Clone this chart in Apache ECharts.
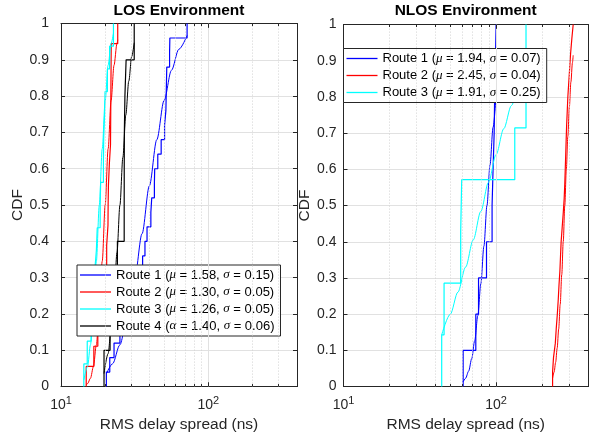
<!DOCTYPE html>
<html><head><meta charset="utf-8">
<script src="https://cdn.jsdelivr.net/npm/echarts/dist/echarts.min.js"></script>
<style>html,body{margin:0;padding:0;background:#fff}#c{width:592px;height:438px}</style>
</head><body><div id="c"></div>
<script>
// ---------- data ----------
const xMin = 10, xMax = 400;
const majorXValues = [10, 100];
const minorGridValues = [20, 30, 40, 50, 60, 70, 80, 90, 200, 300, 400];

// LOS environment: sorted RMS delay spread samples (ns) for each route
const losRoute1 = [20.32, 21.43, 22.91, 25.12, 28.84, 30.20, 31.62, 33.11, 35.81, 37.15, 38.37, 40.74, 41.30, 43.05, 43.25, 45.39, 47.86, 50.47, 51.52, 51.76, 52.00, 52.24, 54.58, 54.83, 71.78];
const losRoute2 = [14.83, 16.71, 17.78, 18.28, 18.71, 19.14, 20.42, 20.84, 20.89, 20.99, 21.28, 21.68, 21.73, 21.78, 21.83, 21.88, 21.93, 24.27];
const losRoute3 = [14.29, 15.07, 16.03, 16.52, 16.90, 17.38, 17.62, 18.45, 18.58, 19.41, 19.50, 19.77, 19.91, 20.65, 21.38, 22.70];
const losRoute4 = [19.59, 21.53, 22.91, 24.15, 26.85, 26.87, 26.92, 27.16, 27.67, 31.41];

// LOS fitted log-normal CDF curves (x in ns, y = CDF)
const losFit1X = [20.32, 22.4, 25.1, 28.2, 31.6, 35.5, 39.8, 44.7, 50.1, 56.2, 63.1, 71.78];
const losFit1Y = [0.035, 0.063, 0.115, 0.193, 0.297, 0.421, 0.553, 0.680, 0.788, 0.871, 0.929, 0.967];
const losFit2X = [14.83, 15.14, 15.85, 16.60, 17.38, 18.20, 19.05, 19.95, 20.89, 21.88, 22.91, 23.99, 24.27];
const losFit2Y = [0.005, 0.008, 0.023, 0.055, 0.115, 0.212, 0.345, 0.500, 0.655, 0.788, 0.885, 0.945, 0.955];
const losFit3X = [14.29, 15.14, 15.85, 16.60, 17.38, 18.20, 19.05, 19.95, 20.89, 21.88, 22.70];
const losFit3Y = [0.018, 0.055, 0.115, 0.212, 0.345, 0.500, 0.655, 0.788, 0.885, 0.945, 0.973];
const losFit4X = [19.59, 20.89, 21.88, 22.91, 23.99, 25.12, 26.30, 27.54, 28.84, 30.20, 31.41];
const losFit4Y = [0.036, 0.091, 0.159, 0.252, 0.369, 0.500, 0.631, 0.748, 0.841, 0.909, 0.947];

// NLOS environment
const nlosRoute1 = [60.8, 73.6, 76.7, 86.5, 94.1, 95.5, 97.1, 97.8, 98.9, 100.0];
const nlosRoute2 = [234.4, 237.7, 244.3, 247.7, 251.8, 255.3, 258.2, 261.8, 264.2, 266.7, 271.0, 275.4, 279.3, 281.8, 283.8, 285.8, 287.7, 289.7, 292.4, 295.1, 299.2, 303.4, 307.6, 313.3, 319.9];
const nlosRoute3 = [44.0, 45.6, 58.6, 59.5, 132.5, 157.0, 157.0];

const nlosFit1X = [60.8, 63.1, 66.1, 69.2, 72.4, 75.9, 79.4, 83.2, 87.1, 91.2, 95.5, 100.0];
const nlosFit1Y = [0.013, 0.023, 0.043, 0.077, 0.127, 0.196, 0.284, 0.388, 0.500, 0.612, 0.716, 0.804];
const nlosFit2X = [234.4, 239.9, 245.5, 251.2, 257.0, 263.0, 269.2, 275.4, 281.8, 288.4, 295.1, 302.0, 309.0, 316.2, 319.9];
const nlosFit2Y = [0.023, 0.040, 0.067, 0.106, 0.159, 0.227, 0.309, 0.401, 0.500, 0.599, 0.691, 0.773, 0.841, 0.894, 0.915];
const nlosFit3X = [44.0, 50.1, 56.2, 63.1, 70.8, 79.4, 89.1, 100.0, 112.2, 125.9, 141.3, 157.0];
const nlosFit3Y = [0.143, 0.200, 0.261, 0.330, 0.405, 0.484, 0.564, 0.641, 0.712, 0.776, 0.831, 0.874];

const losNames = [
  'Route 1 (μ = 1.58, σ = 0.15)',
  'Route 2 (μ = 1.30, σ = 0.05)',
  'Route 3 (μ = 1.26, σ = 0.05)',
  'Route 4 (α = 1.40, σ = 0.06)'
];
const nlosNames = [
  'Route 1 (μ = 1.94, σ = 0.07)',
  'Route 2 (μ = 2.45, σ = 0.04)',
  'Route 3 (μ = 1.91, σ = 0.25)'
];
const titles = ['LOS Environment', 'NLOS Environment'];
const xLabel = 'RMS delay spread (ns)';
const yLabel = 'CDF';

// ---------- styling ----------
const FONT = '"Liberation Sans", Arial, Helvetica, sans-serif';
const AX = '#262626';
const GRID_MAJOR = '#e1e1e1';
const GRID_MINOR = '#d2d2d2';
const COLORS = ['#0000ff', '#ff0000', '#00ffff', '#000000'];

const grids = [
  {left: 61, top: 23.5, width: 236, height: 364},
  {left: 343.5, top: 24.5, width: 244.5, height: 364.5}
];

function ecdf(arr) {
  const pts = [[arr[0], 0]];
  arr.forEach((v, i) => pts.push([v, (i + 1) / arr.length]));
  return pts;
}
function zip(xs, ys) { return xs.map((x, i) => [x, ys[i]]); }

function xFmt(v) {
  const l = Math.log10(v), e = Math.round(l);
  if (Math.abs(l - e) < 1e-6 && (e === 1 || e === 2)) return '{b|10}{s|' + e + '}';
  return '';
}
function yFmt(v) {
  if (Math.abs(v) < 1e-9) return '0';
  if (Math.abs(v - 1) < 1e-9) return '1';
  return v.toFixed(1);
}

function xBottom(g) {
  return {
    gridIndex: g, type: 'log', logBase: 10, min: xMin, max: xMax, position: 'bottom',
    axisLine: {show: true, onZero: false, lineStyle: {color: AX, width: 1}},
    axisTick: {show: false},
    axisLabel: {show: true, margin: 9, formatter: xFmt, color: AX,
      rich: {
        b: {fontSize: 14, fontFamily: FONT, color: AX},
        s: {fontSize: 11, fontFamily: FONT, color: AX, padding: [0, 0, 8, 0]}
      }},
    splitLine: {show: false},
    name: xLabel, nameLocation: 'middle', nameGap: 29,
    nameTextStyle: {fontSize: 15.5, fontFamily: FONT, color: AX}
  };
}
function xTop(g) {
  return {
    gridIndex: g, type: 'log', logBase: 10, min: xMin, max: xMax, position: 'top',
    axisLine: {show: true, onZero: false, lineStyle: {color: AX, width: 1}},
    axisTick: {show: false}, axisLabel: {show: false}, splitLine: {show: false}
  };
}
function yLeft(g, gap, margin) {
  return {
    gridIndex: g, type: 'value', min: 0, max: 1, interval: 0.1, position: 'left',
    axisLine: {show: true, onZero: false, lineStyle: {color: AX, width: 1}},
    axisTick: {show: true, inside: true, length: 4, lineStyle: {color: AX}},
    axisLabel: {show: true, margin: margin, formatter: yFmt, fontSize: 14, fontFamily: FONT, color: AX},
    splitLine: {show: true, lineStyle: {color: GRID_MAJOR, width: 1}},
    name: yLabel, nameLocation: 'middle', nameGap: gap,
    nameTextStyle: {fontSize: 15.5, fontFamily: FONT, color: AX}
  };
}
function yRight(g) {
  return {
    gridIndex: g, type: 'value', min: 0, max: 1, interval: 0.1, position: 'right',
    axisLine: {show: true, onZero: false, lineStyle: {color: AX, width: 1}},
    axisTick: {show: true, inside: true, length: 4, lineStyle: {color: AX}},
    axisLabel: {show: false}, splitLine: {show: false}
  };
}

// grid lines and tick marks of the log x axis, placed at data values through the axis scale
function helper(xi, yi) {
  const minorLines = minorGridValues.filter(v => v < xMax).map(v => ({xAxis: v}));
  const majorLines = majorXValues.filter(v => v > xMin).map(v => ({xAxis: v}));
  const ticks = [];
  minorGridValues.forEach(v => {
    ticks.push([{coord: [v, 0]}, {coord: [v, 0.007]}]);
    ticks.push([{coord: [v, 1]}, {coord: [v, 0.993]}]);
  });
  majorXValues.forEach(v => {
    ticks.push([{coord: [v, 0]}, {coord: [v, 0.012]}]);
    ticks.push([{coord: [v, 1]}, {coord: [v, 0.988]}]);
  });
  const base = {type: 'line', xAxisIndex: xi, yAxisIndex: yi, data: [[xMin, 0]], symbol: 'none',
    silent: true, lineStyle: {opacity: 0}};
  return [
    Object.assign({}, base, {z: 1, markLine: {silent: true, symbol: ['none', 'none'], label: {show: false},
      animation: false, lineStyle: {type: [1, 2], color: GRID_MINOR, width: 1}, data: minorLines}}),
    Object.assign({}, base, {z: 1, markLine: {silent: true, symbol: ['none', 'none'], label: {show: false},
      animation: false, lineStyle: {type: 'solid', color: GRID_MAJOR, width: 1}, data: majorLines}}),
    Object.assign({}, base, {z: 3, markLine: {silent: true, symbol: ['none', 'none'], label: {show: false},
      animation: false, lineStyle: {type: 'solid', color: AX, width: 1}, data: ticks}})
  ];
}

function stairs(name, arr, color, xi, yi) {
  return {type: 'line', name: name, xAxisIndex: xi, yAxisIndex: yi, step: 'end', data: ecdf(arr),
    symbol: 'none', showSymbol: false, z: 2, color: color, lineStyle: {color: color, width: 1.2}};
}
function fit(name, xs, ys, color, xi, yi) {
  return {type: 'line', name: name, xAxisIndex: xi, yAxisIndex: yi, data: zip(xs, ys),
    smooth: 0.3, smoothMonotone: 'x',
    symbol: 'none', showSymbol: false, z: 2, color: color, lineStyle: {color: color, width: 1}};
}

const series = [].concat(
  helper(0, 0), helper(2, 2),
  [
    stairs(losNames[0], losRoute1, COLORS[0], 0, 0), fit('fitL1', losFit1X, losFit1Y, COLORS[0], 0, 0),
    stairs(losNames[1], losRoute2, COLORS[1], 0, 0), fit('fitL2', losFit2X, losFit2Y, COLORS[1], 0, 0),
    stairs(losNames[2], losRoute3, COLORS[2], 0, 0), fit('fitL3', losFit3X, losFit3Y, COLORS[2], 0, 0),
    stairs(losNames[3], losRoute4, COLORS[3], 0, 0), fit('fitL4', losFit4X, losFit4Y, COLORS[3], 0, 0),
    stairs(nlosNames[0], nlosRoute1, COLORS[0], 2, 2), fit('fitN1', nlosFit1X, nlosFit1Y, COLORS[0], 2, 2),
    stairs(nlosNames[1], nlosRoute2, COLORS[1], 2, 2), fit('fitN2', nlosFit2X, nlosFit2Y, COLORS[1], 2, 2),
    stairs(nlosNames[2], nlosRoute3, COLORS[2], 2, 2), fit('fitN3', nlosFit3X, nlosFit3Y, COLORS[2], 2, 2)
  ]
);

function legendCfg(names, left, top) {
  return {
    data: names, left: left, top: top, orient: 'vertical', selectedMode: false,
    backgroundColor: '#ffffff', borderColor: AX, borderWidth: 1, borderRadius: 0,
    padding: [3, 6, 3, 3], itemGap: 3, itemWidth: 31, itemHeight: 1.3, icon: 'rect',
    formatter: n => n.replace(/([μσα])/g, '{g|$1}'),
    textStyle: {fontSize: 13, fontFamily: FONT, color: '#000', lineHeight: 14,
      rich: {g: {fontSize: 13, fontFamily: '"Liberation Serif", "Times New Roman", serif', fontStyle: 'italic', color: '#000', lineHeight: 14}}}
  };
}

const option = {
  animation: false,
  backgroundColor: '#ffffff',
  title: [
    {text: titles[0], left: 179, top: 3, textAlign: 'center', padding: 0,
      textStyle: {fontSize: 15.5, fontWeight: 'bold', color: '#000', fontFamily: FONT}},
    {text: titles[1], left: 465.7, top: 3, textAlign: 'center', padding: 0,
      textStyle: {fontSize: 15.5, fontWeight: 'bold', color: '#000', fontFamily: FONT}}
  ],
  grid: grids,
  xAxis: [xBottom(0), xTop(0), xBottom(1), xTop(1)],
  yAxis: [yLeft(0, 34, 12), yRight(0), yLeft(1, 29, 7), yRight(1)],
  legend: [legendCfg(losNames, 77, 265), legendCfg(nlosNames, 343.5, 48.5)],
  series: series
};

const chart = echarts.init(document.getElementById('c'), null, {renderer: 'canvas'});
chart.setOption(option);
</script></body></html>
